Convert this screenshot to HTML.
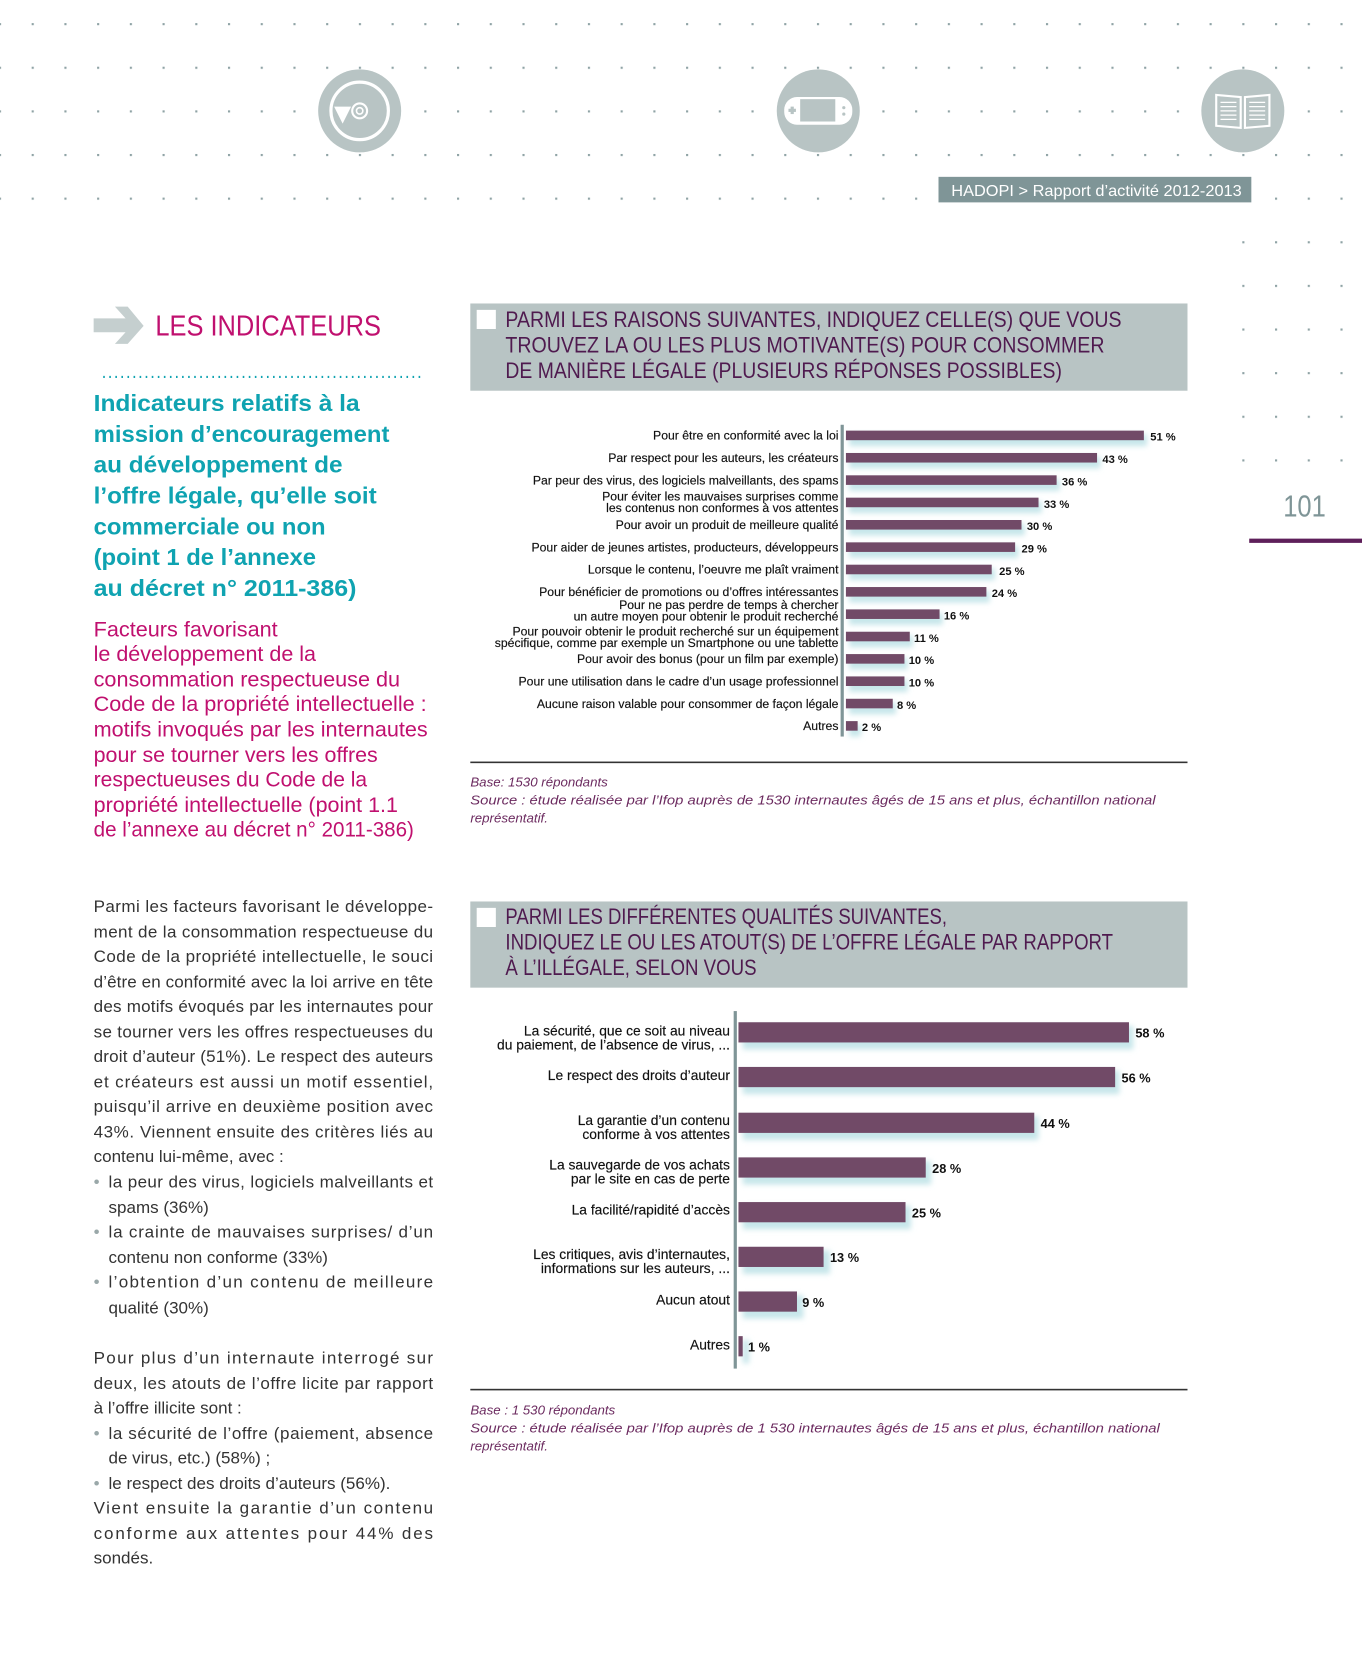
<!DOCTYPE html>
<html><head><meta charset="utf-8"><style>
html,body{margin:0;padding:0;background:#fff}
svg{display:block}
</style></head><body>
<svg width="1362" height="1671" viewBox="0 0 1280 1570" xmlns="http://www.w3.org/2000/svg" font-family="'Liberation Sans', sans-serif">
<defs>
<pattern id="dots" patternUnits="userSpaceOnUse" x="-1" y="21.5" width="30.75" height="41">
<rect x="0" y="0" width="2" height="2" fill="#8fa3a5"/>
</pattern>
<filter id="sh" x="-5%" y="-50%" width="110%" height="250%"><feGaussianBlur stdDeviation="2.5"/></filter>
</defs>
<rect x="0" y="18" width="1280" height="172" fill="url(#dots)"/>
<rect x="1160" y="190" width="120" height="245" fill="url(#dots)"/>
<!-- icons -->
<circle cx="338" cy="104" r="39" fill="#b8c4c4"/>
<circle cx="338" cy="104" r="27" fill="none" stroke="#fff" stroke-width="3"/>
<circle cx="338" cy="104" r="7" fill="none" stroke="#fff" stroke-width="2"/>
<circle cx="338" cy="104" r="3" fill="none" stroke="#fff" stroke-width="1.5"/>
<path d="M314 100 L330 100 L322 116 Z" fill="#fff"/>
<circle cx="769" cy="104" r="39" fill="#b8c4c4"/>
<rect x="737" y="91" width="64" height="26" rx="12" fill="#fff"/>
<rect x="752" y="93" width="33" height="21" fill="#b8c4c4"/>
<rect x="741" y="102" width="7" height="3" fill="#b8c4c4"/><rect x="743" y="100" width="3" height="7" fill="#b8c4c4"/>
<circle cx="793" cy="101" r="1.5" fill="#b8c4c4"/><circle cx="793" cy="107" r="1.5" fill="#b8c4c4"/>
<circle cx="1168" cy="104" r="39" fill="#b8c4c4"/>
<path d="M1143 89 L1166 91 L1166 120 L1143 118 Z M1193 89 L1170 91 L1170 120 L1193 118 Z" fill="none" stroke="#fff" stroke-width="2"/>
<g stroke="#fff" stroke-width="1.2"><path d="M1147 96h15M1147 100h15M1147 104h15M1147 108h15M1147 112h15M1174 96h15M1174 100h15M1174 104h15M1174 108h15M1174 112h15"/></g>
<!-- header tag -->
<rect x="876" y="163" width="306" height="30" fill="#fff"/>
<rect x="882" y="166" width="294" height="24" fill="#7f9597"/>
<text x="894" y="184" font-size="15" fill="#fff" textLength="273" lengthAdjust="spacingAndGlyphs">HADOPI &gt; Rapport d’activité 2012-2013</text>
<text x="1206" y="485" font-size="29" fill="#7f9597" textLength="40" lengthAdjust="spacingAndGlyphs">101</text>
<rect x="1174" y="506" width="106" height="4" fill="#5e1f5a"/>
<!-- left column -->
<path d="M88 299 L118 299 L108 288 L120 288 L135 306 L120 323 L108 323 L118 312 L88 312 Z" fill="#c5cfcf"/>
<text x="146" y="315" font-size="27" fill="#c0106f" textLength="212" lengthAdjust="spacingAndGlyphs">LES INDICATEURS</text>
<line x1="97" y1="354" x2="398" y2="354" stroke="#0fa3b1" stroke-width="2" stroke-dasharray="1.5 4.2"/>
<g font-size="22" font-weight="bold" fill="#0fa3b1">
<text x="88" y="386" textLength="250" lengthAdjust="spacingAndGlyphs">Indicateurs relatifs à la</text>
<text x="88" y="415" textLength="278" lengthAdjust="spacingAndGlyphs">mission d’encouragement</text>
<text x="88" y="444" textLength="234" lengthAdjust="spacingAndGlyphs">au développement de</text>
<text x="88" y="473" textLength="266" lengthAdjust="spacingAndGlyphs">l’offre légale, qu’elle soit</text>
<text x="88" y="502" textLength="218" lengthAdjust="spacingAndGlyphs">commerciale ou non</text>
<text x="88" y="531" textLength="209" lengthAdjust="spacingAndGlyphs">(point 1 de l’annexe</text>
<text x="88" y="560" textLength="247" lengthAdjust="spacingAndGlyphs">au décret n° 2011-386)</text>
</g>
<g font-size="20" fill="#c0106f">
<text x="88" y="598" textLength="173" lengthAdjust="spacingAndGlyphs">Facteurs favorisant</text>
<text x="88" y="621" textLength="209" lengthAdjust="spacingAndGlyphs">le développement de la</text>
<text x="88" y="645" textLength="288" lengthAdjust="spacingAndGlyphs">consommation respectueuse du</text>
<text x="88" y="668" textLength="313" lengthAdjust="spacingAndGlyphs">Code de la propriété intellectuelle :</text>
<text x="88" y="692" textLength="314" lengthAdjust="spacingAndGlyphs">motifs invoqués par les internautes</text>
<text x="88" y="716" textLength="267" lengthAdjust="spacingAndGlyphs">pour se tourner vers les offres</text>
<text x="88" y="739" textLength="257" lengthAdjust="spacingAndGlyphs">respectueuses du Code de la</text>
<text x="88" y="763" textLength="286" lengthAdjust="spacingAndGlyphs">propriété intellectuelle (point 1.1</text>
<text x="88" y="786" textLength="301" lengthAdjust="spacingAndGlyphs">de l’annexe au décret n° 2011-386)</text>
</g>
<g font-size="16" fill="#333">
<text x="88" y="857" textLength="319" lengthAdjust="spacing">Parmi les facteurs favorisant le développe-</text>
<text x="88" y="881" textLength="319" lengthAdjust="spacing">ment de la consommation respectueuse du</text>
<text x="88" y="904" textLength="319" lengthAdjust="spacing">Code de la propriété intellectuelle, le souci</text>
<text x="88" y="928" textLength="319" lengthAdjust="spacing">d’être en conformité avec la loi arrive en tête</text>
<text x="88" y="951" textLength="319" lengthAdjust="spacing">des motifs évoqués par les internautes pour</text>
<text x="88" y="975" textLength="319" lengthAdjust="spacing">se tourner vers les offres respectueuses du</text>
<text x="88" y="998" textLength="319" lengthAdjust="spacing">droit d’auteur (51%). Le respect des auteurs</text>
<text x="88" y="1022" textLength="319" lengthAdjust="spacing">et créateurs est aussi un motif essentiel,</text>
<text x="88" y="1045" textLength="319" lengthAdjust="spacing">puisqu’il arrive en deuxième position avec</text>
<text x="88" y="1069" textLength="319" lengthAdjust="spacing">43%. Viennent ensuite des critères liés au</text>
<text x="88" y="1092">contenu lui-même, avec :</text>
<text x="88" y="1116" fill="#9aa8a9">•</text><text x="102" y="1116" textLength="305" lengthAdjust="spacing">la peur des virus, logiciels malveillants et</text>
<text x="102" y="1140">spams (36%)</text>
<text x="88" y="1163" fill="#9aa8a9">•</text><text x="102" y="1163" textLength="305" lengthAdjust="spacing">la crainte de mauvaises surprises/ d’un</text>
<text x="102" y="1187">contenu non conforme (33%)</text>
<text x="88" y="1210" fill="#9aa8a9">•</text><text x="102" y="1210" textLength="305" lengthAdjust="spacing">l’obtention d’un contenu de meilleure</text>
<text x="102" y="1234">qualité (30%)</text>
<text x="88" y="1281" textLength="319" lengthAdjust="spacing">Pour plus d’un internaute interrogé sur</text>
<text x="88" y="1305" textLength="319" lengthAdjust="spacing">deux, les atouts de l’offre licite par rapport</text>
<text x="88" y="1328">à l’offre illicite sont :</text>
<text x="88" y="1352" fill="#9aa8a9">•</text><text x="102" y="1352" textLength="305" lengthAdjust="spacing">la sécurité de l’offre (paiement, absence</text>
<text x="102" y="1375">de virus, etc.) (58%) ;</text>
<text x="88" y="1399" fill="#9aa8a9">•</text><text x="102" y="1399">le respect des droits d’auteurs (56%).</text>
<text x="88" y="1422" textLength="319" lengthAdjust="spacing">Vient ensuite la garantie d’un contenu</text>
<text x="88" y="1446" textLength="319" lengthAdjust="spacing">conforme aux attentes pour 44% des</text>
<text x="88" y="1469">sondés.</text>
</g>
<!-- chart 1 header -->
<rect x="442" y="285" width="674" height="82" fill="#b8c4c4"/>
<rect x="448" y="291" width="18" height="18" fill="#fff"/>
<g font-size="21" fill="#4f1a4f">
<text x="475" y="307" textLength="579" lengthAdjust="spacingAndGlyphs">PARMI LES RAISONS SUIVANTES, INDIQUEZ CELLE(S) QUE VOUS</text>
<text x="475" y="331" textLength="563" lengthAdjust="spacingAndGlyphs">TROUVEZ LA OU LES PLUS MOTIVANTE(S) POUR CONSOMMER</text>
<text x="475" y="355" textLength="523" lengthAdjust="spacingAndGlyphs">DE MANIÈRE LÉGALE (PLUSIEURS RÉPONSES POSSIBLES)</text>
</g>
<!-- chart 1 -->
<g fill="#c6e6ea" filter="url(#sh)">
<rect x="798" y="408" width="280" height="11"/><rect x="798" y="429" width="236" height="11"/><rect x="798" y="450" width="198" height="11"/><rect x="798" y="471" width="181" height="11"/><rect x="798" y="492" width="165" height="11"/><rect x="798" y="513" width="159" height="11"/><rect x="798" y="534" width="137" height="11"/><rect x="798" y="555" width="132" height="11"/><rect x="798" y="576" width="88" height="11"/><rect x="798" y="597" width="60" height="11"/><rect x="798" y="618" width="55" height="11"/><rect x="798" y="639" width="55" height="11"/><rect x="798" y="660" width="44" height="11"/><rect x="798" y="681" width="11" height="11"/>
</g>
<rect x="790" y="399" width="3" height="293" fill="#7f9597"/>
<g fill="#714a67">
<rect x="795" y="404.5" width="280" height="9"/><rect x="795" y="425.5" width="236" height="9"/><rect x="795" y="446.5" width="198" height="9"/><rect x="795" y="467.5" width="181" height="9"/><rect x="795" y="488.5" width="165" height="9"/><rect x="795" y="509.5" width="159" height="9"/><rect x="795" y="530.5" width="137" height="9"/><rect x="795" y="551.5" width="132" height="9"/><rect x="795" y="572.5" width="88" height="9"/><rect x="795" y="593.5" width="60" height="9"/><rect x="795" y="614.5" width="55" height="9"/><rect x="795" y="635.5" width="55" height="9"/><rect x="795" y="656.5" width="44" height="9"/><rect x="795" y="677.5" width="11" height="9"/>
</g>
<g font-size="11.5" fill="#111" text-anchor="end" stroke="#111" stroke-width="0.15">
<text x="788" y="413">Pour être en conformité avec la loi</text>
<text x="788" y="434">Par respect pour les auteurs, les créateurs</text>
<text x="788" y="455">Par peur des virus, des logiciels malveillants, des spams</text>
<text x="788" y="470">Pour éviter les mauvaises surprises comme</text>
<text x="788" y="481">les contenus non conformes à vos attentes</text>
<text x="788" y="497">Pour avoir un produit de meilleure qualité</text>
<text x="788" y="518">Pour aider de jeunes artistes, producteurs, développeurs</text>
<text x="788" y="539">Lorsque le contenu, l’oeuvre me plaît vraiment</text>
<text x="788" y="560">Pour bénéficier de promotions ou d’offres intéressantes</text>
<text x="788" y="572">Pour ne pas perdre de temps à chercher</text>
<text x="788" y="583">un autre moyen pour obtenir le produit recherché</text>
<text x="788" y="597">Pour pouvoir obtenir le produit recherché sur un équipement</text>
<text x="788" y="608">spécifique, comme par exemple un Smartphone ou une tablette</text>
<text x="788" y="623">Pour avoir des bonus (pour un film par exemple)</text>
<text x="788" y="644">Pour une utilisation dans le cadre d’un usage professionnel</text>
<text x="788" y="665">Aucune raison valable pour consommer de façon légale</text>
<text x="788" y="686">Autres</text>
</g>
<g font-size="10.5" font-weight="bold" fill="#111">
<text x="1081" y="414">51 %</text><text x="1036" y="435">43 %</text><text x="998" y="456">36 %</text><text x="981" y="477">33 %</text><text x="965" y="498">30 %</text><text x="960" y="519">29 %</text><text x="939" y="540">25 %</text><text x="932" y="561">24 %</text><text x="887" y="582">16 %</text><text x="859" y="603">11 %</text><text x="854" y="624">10 %</text><text x="854" y="645">10 %</text><text x="843" y="666">8 %</text><text x="810" y="687">2 %</text>
</g>
<rect x="442" y="715.5" width="674" height="1.5" fill="#333"/>
<g font-size="12.5" font-style="italic" fill="#6b2a5f">
<text x="442" y="739">Base: 1530 répondants</text>
<text x="442" y="756" textLength="644" lengthAdjust="spacingAndGlyphs">Source : étude réalisée par l’Ifop auprès de 1530 internautes âgés de 15 ans et plus, échantillon national</text>
<text x="442" y="773">représentatif.</text>
</g>
<!-- chart 2 header -->
<rect x="442" y="847" width="674" height="81" fill="#b8c4c4"/>
<rect x="448" y="853" width="18" height="18" fill="#fff"/>
<g font-size="21" fill="#4f1a4f">
<text x="475" y="868" textLength="415" lengthAdjust="spacingAndGlyphs">PARMI LES DIFFÉRENTES QUALITÉS SUIVANTES,</text>
<text x="475" y="892" textLength="571" lengthAdjust="spacingAndGlyphs">INDIQUEZ LE OU LES ATOUT(S) DE L’OFFRE LÉGALE PAR RAPPORT</text>
<text x="475" y="916" textLength="236" lengthAdjust="spacingAndGlyphs">À L’ILLÉGALE, SELON VOUS</text>
</g>
<!-- chart 2 -->
<g fill="#c6e6ea" filter="url(#sh)">
<rect x="698" y="964" width="367" height="22"/><rect x="698" y="1006" width="354" height="22"/><rect x="698" y="1049" width="278" height="22"/><rect x="698" y="1091" width="177" height="22"/><rect x="698" y="1133" width="158" height="22"/><rect x="698" y="1175" width="82" height="22"/><rect x="698" y="1217" width="57" height="22"/><rect x="698" y="1259" width="6" height="22"/>
</g>
<rect x="689.5" y="950" width="3" height="336" fill="#7f9597"/>
<g fill="#714a67">
<rect x="694" y="960.5" width="367" height="19"/><rect x="694" y="1002.5" width="354" height="19"/><rect x="694" y="1045.5" width="278" height="19"/><rect x="694" y="1087.5" width="176" height="19"/><rect x="694" y="1129.5" width="157" height="19"/><rect x="694" y="1171.5" width="80" height="19"/><rect x="694" y="1213.5" width="55" height="19"/><rect x="694" y="1255.5" width="4" height="19"/>
</g>
<g font-size="13" fill="#111" text-anchor="end" stroke="#111" stroke-width="0.15">
<text x="686" y="973">La sécurité, que ce soit au niveau</text>
<text x="686" y="986">du paiement, de l’absence de virus, ...</text>
<text x="686" y="1015">Le respect des droits d’auteur</text>
<text x="686" y="1057">La garantie d’un contenu</text>
<text x="686" y="1070">conforme à vos attentes</text>
<text x="686" y="1099">La sauvegarde de vos achats</text>
<text x="686" y="1112">par le site en cas de perte</text>
<text x="686" y="1141">La facilité/rapidité d’accès</text>
<text x="686" y="1183">Les critiques, avis d’internautes,</text>
<text x="686" y="1196">informations sur les auteurs, ...</text>
<text x="686" y="1226">Aucun atout</text>
<text x="686" y="1268">Autres</text>
</g>
<g font-size="12" font-weight="bold" fill="#111">
<text x="1067" y="975">58 %</text><text x="1054" y="1017">56 %</text><text x="978" y="1060">44 %</text><text x="876" y="1102">28 %</text><text x="857" y="1144">25 %</text><text x="780" y="1186">13 %</text><text x="754" y="1228">9 %</text><text x="703" y="1270">1 %</text>
</g>
<rect x="442" y="1305" width="674" height="1.5" fill="#333"/>
<g font-size="12.5" font-style="italic" fill="#6b2a5f">
<text x="442" y="1329">Base : 1 530 répondants</text>
<text x="442" y="1346" textLength="648" lengthAdjust="spacingAndGlyphs">Source : étude réalisée par l’Ifop auprès de 1 530 internautes âgés de 15 ans et plus, échantillon national</text>
<text x="442" y="1363">représentatif.</text>
</g>
</svg>
</body></html>
